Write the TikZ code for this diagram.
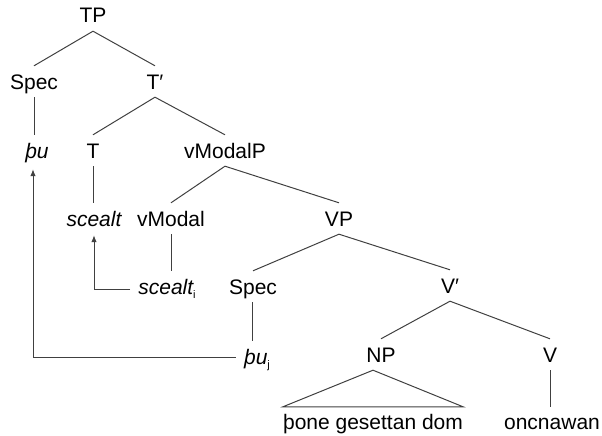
\documentclass[tikz,border=0pt]{standalone}
\usepackage{fontspec}
\setmainfont{Liberation Sans}
\usetikzlibrary{arrows.meta,calc}
\newcommand\mysubtxt[1]{\raisebox{-4pt}{\fontsize{11}{12}\selectfont #1}}
\begin{document}
\begin{tikzpicture}[x=1pt,y=-1pt,
  lbl/.style={anchor=base, inner sep=0pt, text height=23pt, text depth=8pt,
    font=\fontsize{21}{24}\selectfont},
  leaflbl/.style={lbl, text height=22pt},
  edge/.style={draw=black!75, line width=1pt},
  mv/.style={edge, -{Latex[length=7pt,width=5.5pt]}}]
\useasboundingbox (0,0) rectangle (602,436);
% nodes
\node[lbl] (TP) at (93,23) {TP};
\node[lbl] (specA) at (34,89) {Spec};
\node[lbl] (Tbar) at (155,89) {T′};
\node[lbl] (pu) at (37,158) {\itshape þu};
\node[lbl] (T) at (93,158) {T};
\node[lbl] (vModalP) at (225,158) {vModalP};
\node[lbl] (sceaLt) at (94,226) {\itshape scealt};
\node[lbl] (vModal) at (171,226) {vModal};
\node[lbl] (VP) at (339,226) {VP};
\node[lbl] (sceaLti) at (167,294) {{\itshape scealt}\mysubtxt{i}};
\node[lbl] (specB) at (253,294) {Spec};
\node[lbl] (Vbar) at (450,293) {V′};
\node[lbl] (puj) at (257,364) {{\itshape þu}\mysubtxt{j}};
\node[lbl] (NP) at (381,362) {NP};
\node[lbl] (V) at (550,362) {V};
\node[leaflbl] (leaf) at (373,429) {þone gesettan dom};
\node[leaflbl] (onc) at (552,429) {oncnawan};
% tree edges
\draw[edge] (specA.north) -- (TP.south) -- (Tbar.north);
\draw[edge] (T.north) -- (Tbar.south) -- (vModalP.north);
\draw[edge] (specA.south) -- (specA.south |- pu.north);
\draw[edge] (T.south) -- (T.south |- sceaLt.north);
\draw[edge] (vModal.north) -- (vModalP.south) -- (VP.north);
\draw[edge] (vModal.south) -- (vModal.south |- sceaLti.north);
\draw[edge] (specB.north) -- (VP.south) -- (Vbar.north);
\draw[edge] ([xshift=-1pt]specB.south) -- ([xshift=-1pt]specB.south |- puj.north);
\draw[edge] (NP.north) -- (Vbar.south) -- (V.north);
\draw[edge] (NP.south -| leaf.north) -- (leaf.north west) -- (leaf.north east) -- cycle;
\draw[edge] (V.south) -- (V.south |- onc.north);
% movement arrows
\draw[mv] ([xshift=-8pt,yshift=5pt]sceaLti.base west) -| ([yshift=-1pt]sceaLt.south);
\draw[mv] ([xshift=-8pt,yshift=7pt]puj.base west) -| ([xshift=-4pt,yshift=-3pt]pu.south);
\end{tikzpicture}
\end{document}
